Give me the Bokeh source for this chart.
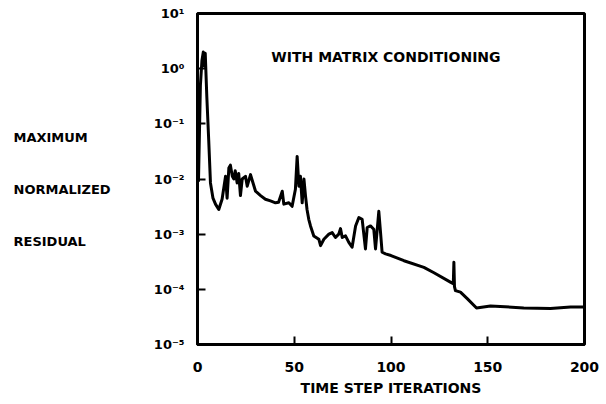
from bokeh.plotting import figure
from bokeh.models import FixedTicker, Label, ColumnDataSource
from bokeh.layouts import row
from bokeh.core.properties import value
from bokeh.embed import file_html
from bokeh.resources import INLINE

# Data (time step iteration, maximum normalized residual)
iterations = [0.5, 1.5, 2.3, 3.0, 3.5, 4.0, 4.8, 5.8, 6.7, 8.0, 9.3, 11.0, 12.7, 14.5, 15.3, 16.2,
              17.0, 18.0, 18.8, 19.5, 20.5, 21.3, 22.2, 23.1, 24.8, 25.7, 27.4, 28.5, 30.0, 32.6,
              35.1, 37.7, 40.3, 41.9, 43.8, 44.6, 47.2, 48.9, 50.6, 51.5, 52.4, 53.2, 54.1, 55.0,
              55.8, 56.6, 57.5, 58.4, 60.1, 62.7, 63.6, 65.3, 67.9, 69.6, 71.3, 73.0, 73.9, 74.8,
              76.5, 78.2, 79.9, 81.7, 83.4, 85.1, 86.8, 87.7, 89.4, 91.1, 92.0, 93.7, 94.6, 95.4,
              97.2, 100.0, 106.7, 117.0, 122.2, 130.7, 132.2, 132.5, 132.8, 133.3, 135.9, 139.4,
              144.2, 151.4, 168.6, 182.4, 192.8, 199.5]
residual = [0.0089, 0.50, 1.41, 2.0, 1.12, 1.9, 0.32, 0.050, 0.0085, 0.0045, 0.0035, 0.0028, 0.0043,
            0.0112, 0.0045, 0.0158, 0.0178, 0.0112, 0.0100, 0.0141, 0.0085, 0.0126, 0.0050, 0.0100,
            0.0112, 0.0074, 0.0120, 0.0089, 0.0060, 0.0050, 0.0043, 0.0040, 0.0037, 0.0038, 0.0060,
            0.0035, 0.0037, 0.0032, 0.0065, 0.0257, 0.0074, 0.0112, 0.0037, 0.0100, 0.0050, 0.0028,
            0.00186, 0.00141, 0.00093, 0.00081, 0.00062, 0.00081, 0.0010, 0.00107, 0.00087, 0.0010,
            0.00126, 0.00087, 0.00093, 0.00071, 0.00058, 0.00141, 0.0020, 0.00186, 0.00054, 0.00132,
            0.00141, 0.00123, 0.00054, 0.0026, 0.00107, 0.00047, 0.00044, 0.00041, 0.00033, 0.00025,
            0.00020, 0.000135, 0.000126, 0.00031, 0.000112, 0.000095, 0.000089, 0.000068, 0.000046,
            0.000050, 0.000046, 0.000045, 0.000048, 0.000048]

x_ticks = [0, 50, 100, 150, 200]
y_ticks = [1e-5, 1e-4, 1e-3, 1e-2, 1e-1, 1e0, 1e1]
y_tick_labels = ["10\u207b\u2075", "10\u207b\u2074", "10\u207b\u00b3", "10\u207b\u00b2",
                 "10\u207b\u00b9", "10\u2070", "10\u00b9"]
title_text = "WITH MATRIX CONDITIONING"
y_label_words = ["MAXIMUM", "NORMALIZED", "RESIDUAL"]
y_label_levels = [0.056, 0.0065, 0.00075]
x_label_text = "TIME STEP ITERATIONS"

FONT = "DejaVu Sans"

p = figure(width=450, height=398, output_backend="svg", toolbar_location=None,
           y_axis_type="log", x_range=(0, 200), y_range=(1e-5, 10),
           min_border=0, min_border_left=47, min_border_right=16,
           min_border_top=13, min_border_bottom=52)

p.line(iterations, residual, line_color="black", line_width=3, line_join="round")

p.xgrid.visible = False
p.ygrid.visible = False
p.outline_line_color = "black"
p.outline_line_width = 3
p.outline_line_alpha = 1.0
p.background_fill_color = "white"
p.border_fill_color = "white"

for ax in (p.xaxis[0], p.yaxis[0]):
    ax.axis_line_color = "black"
    ax.axis_line_width = 3
    ax.major_tick_in = 8
    ax.major_tick_out = 0
    ax.major_tick_line_width = 2
    ax.minor_tick_line_color = None
    ax.major_label_text_font = FONT
    ax.major_label_text_font_style = "bold"
    ax.major_label_text_color = "black"

p.xaxis.ticker = FixedTicker(ticks=x_ticks)
p.xaxis.major_label_text_font_size = "14px"
p.xaxis.major_label_standoff = 17
p.xaxis.axis_label = x_label_text
p.xaxis.axis_label_text_font = FONT
p.xaxis.axis_label_text_font_style = "bold"
p.xaxis.axis_label_text_font_size = "14px"
p.xaxis.axis_label_text_color = "black"
p.xaxis.axis_label_standoff = 5

p.yaxis.ticker = FixedTicker(ticks=y_ticks)
p.yaxis.major_label_overrides = {t: s for t, s in zip(y_ticks, y_tick_labels)}
p.yaxis.major_label_text_font_size = "13px"
p.yaxis.major_label_standoff = 13

p.add_layout(Label(x=97.4, y=1.61, text=title_text, text_font=FONT, text_font_style="bold",
                   text_font_size="14px", text_align="center", text_baseline="middle",
                   text_color="black"))

# Left panel holding the stacked y-axis caption words
side = figure(width=150, height=398, output_backend="svg", toolbar_location=None,
              y_axis_type="log", x_range=(0, 150), y_range=p.y_range,
              x_axis_location=None, y_axis_location=None,
              min_border=0, min_border_left=0, min_border_right=0,
              min_border_top=13, min_border_bottom=52)
side.xgrid.visible = False
side.ygrid.visible = False
side.outline_line_color = None
side.background_fill_color = "white"
side.border_fill_color = "white"
src = ColumnDataSource(dict(x=[13] * len(y_label_words), y=y_label_levels, text=y_label_words))
side.text(x="x", y="y", text="text", source=src, text_font=value(FONT),
          text_font_style="bold", text_font_size="13px", text_align="left",
          text_baseline="middle", text_color="black")

layout = row(side, p, spacing=0)
open("out.html", "w").write(file_html(layout, INLINE))
